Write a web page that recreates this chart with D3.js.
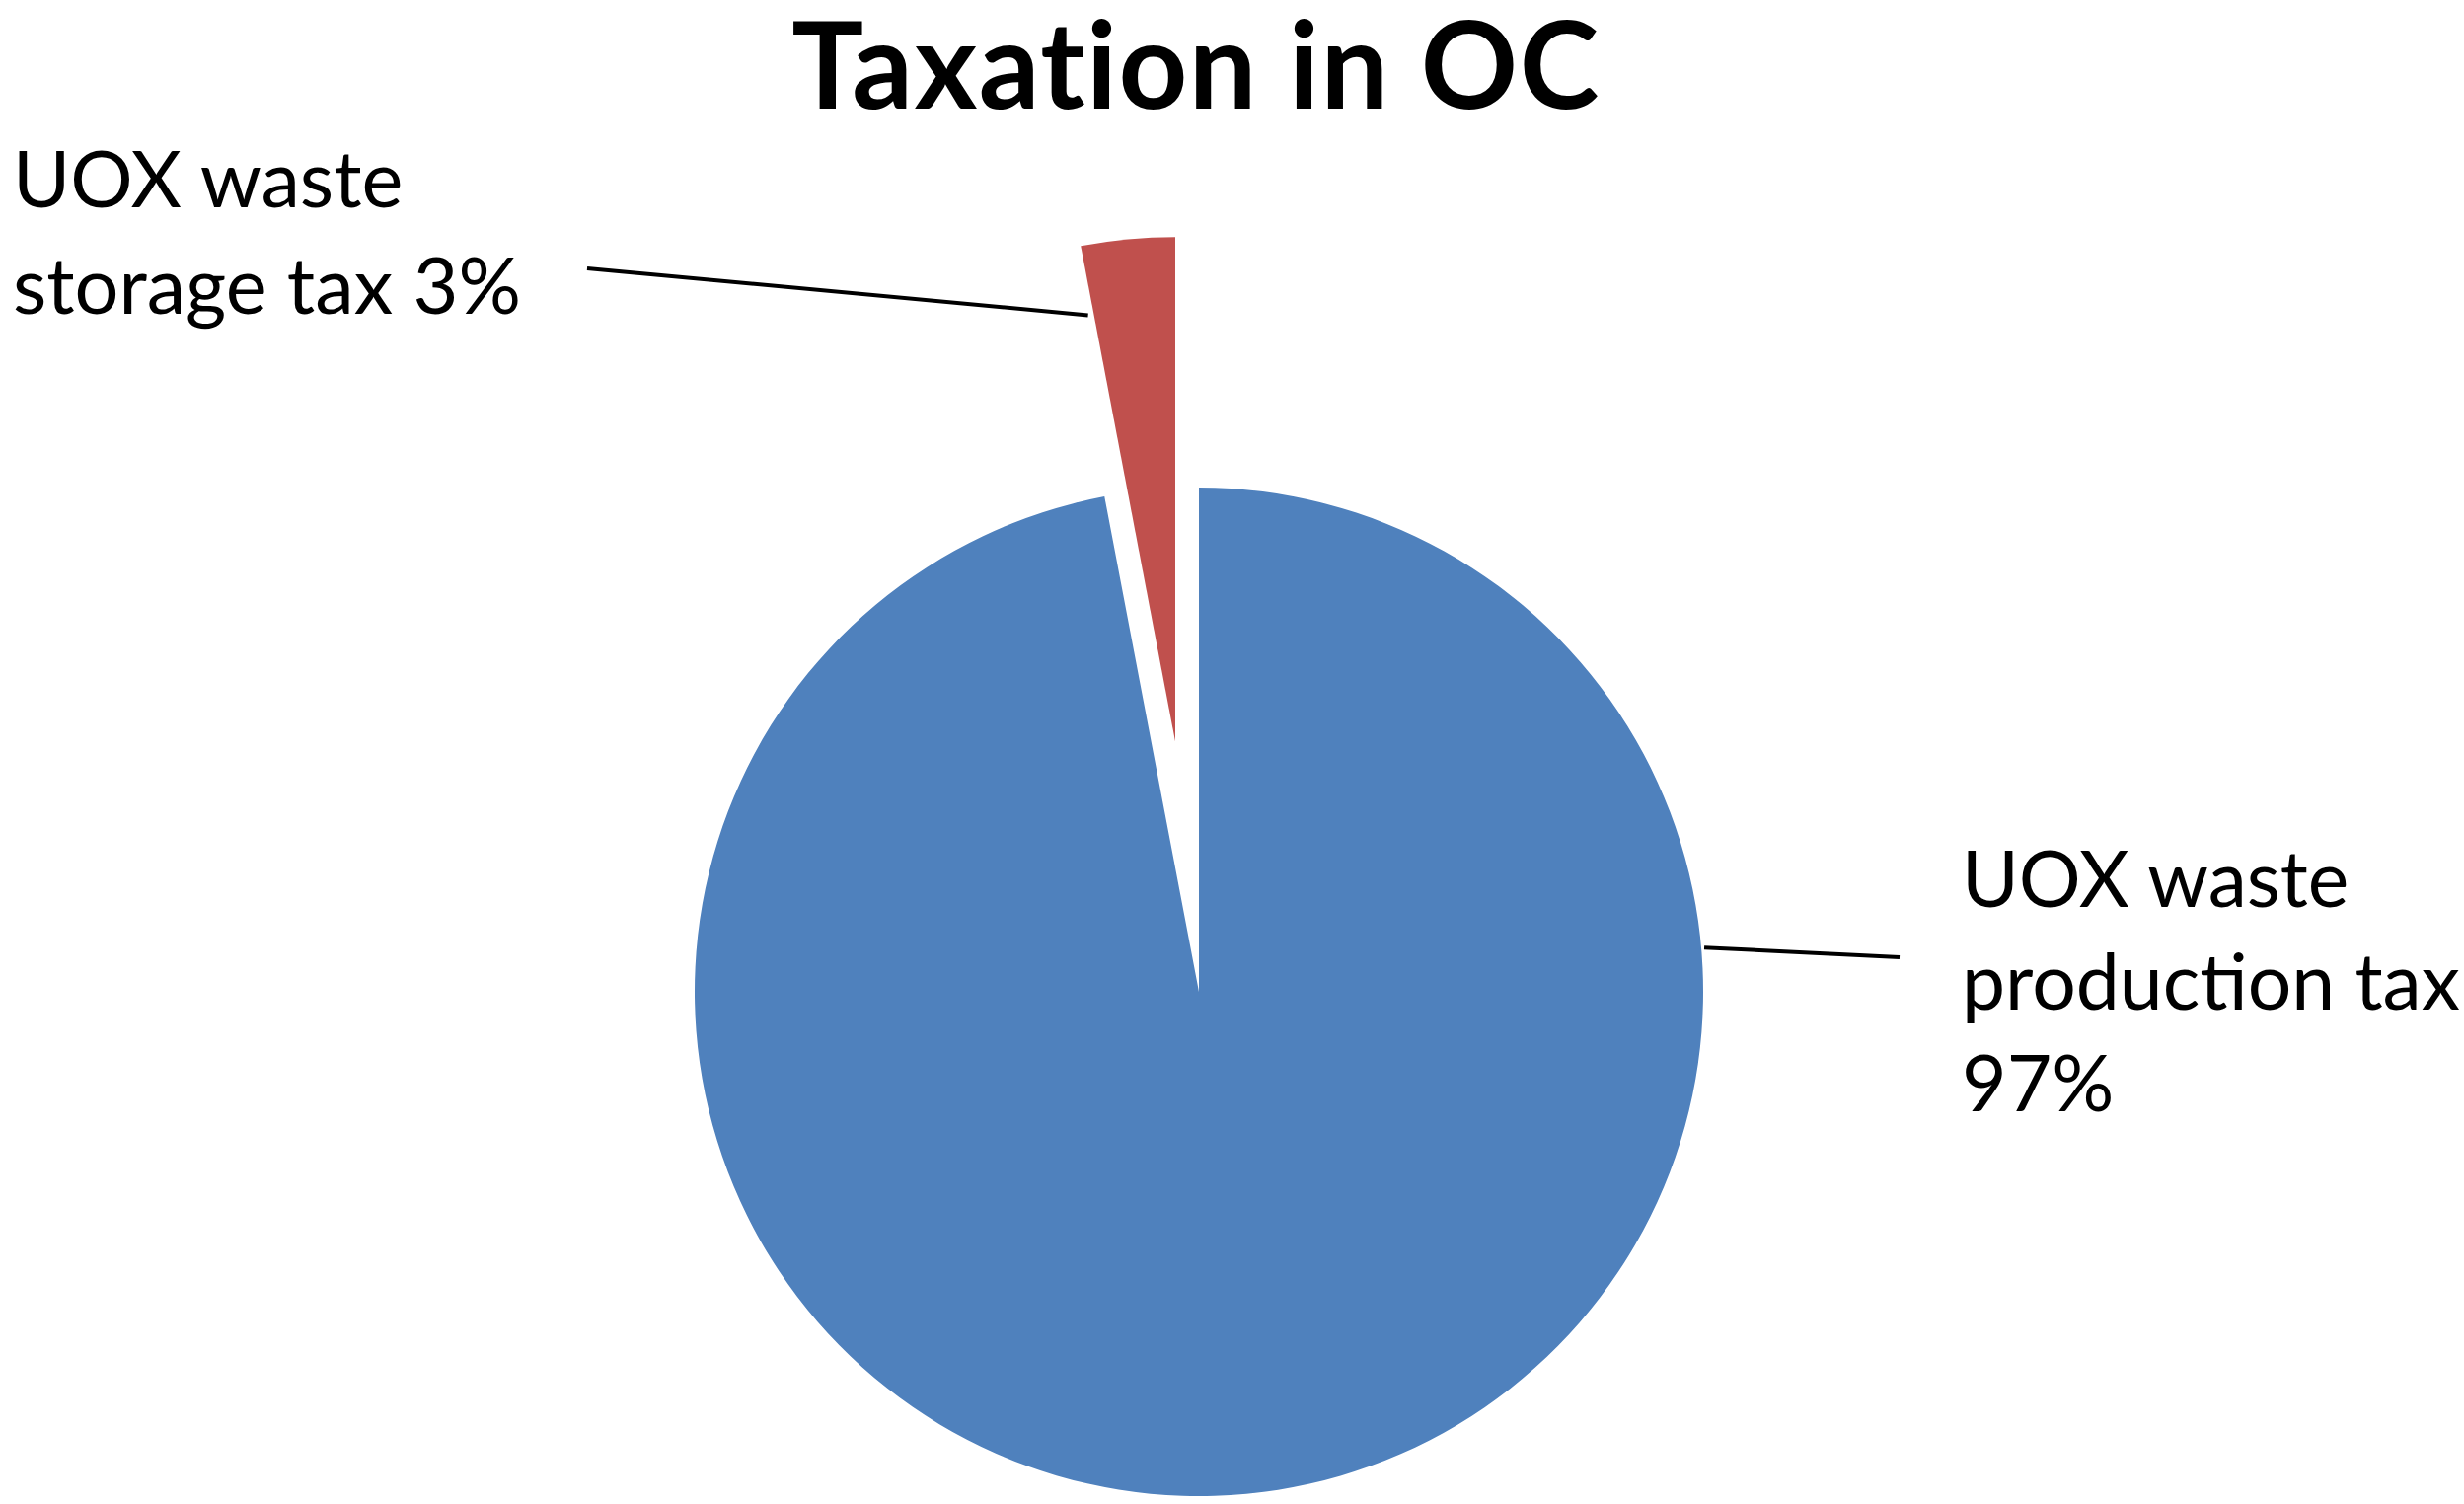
<!DOCTYPE html>
<html><head><meta charset="utf-8">
<script src="https://cdn.jsdelivr.net/npm/d3@7"></script>
<style>html,body{margin:0;padding:0;background:#fff;overflow:hidden}</style>
</head><body>
<svg id="chart" width="2497" height="1524"></svg>
<script>
// ---- data ----
const title = "Taxation in OC";
const categories = ["UOX waste production tax", "UOX waste storage tax"];
const values = [97, 3];
const labelLines = [["UOX waste", "production tax"], ["UOX waste", "storage tax"]];
const colors = ["#4F81BD", "#C0504D"];

// ---- layout ----
const W = 2497, H = 1524;
const cx = 1215, cy = 1005, R = 511;
const explodeDist = [0, 255];
const FONT = "Lato, 'Open Sans', sans-serif";

const svg = d3.select("#chart");
svg.append("rect").attr("width", W).attr("height", H).attr("fill", "#fff");

const total = d3.sum(values);
const pct = d3.format(".0%");
const arcs = d3.pie().sort(null).value(d => d)(values);
const arc = d3.arc().innerRadius(0).outerRadius(R);

const g = svg.append("g").attr("transform", `translate(${cx},${cy})`);
const offsets = arcs.map((a, i) => d3.pointRadial((a.startAngle + a.endAngle) / 2, explodeDist[i]));

g.selectAll("path.slice").data(arcs).join("path")
  .attr("class", "slice")
  .attr("d", arc)
  .attr("fill", (d, i) => colors[i])
  .attr("transform", (d, i) => `translate(${offsets[i][0]},${offsets[i][1]})`);

function fitSize(sel, target) {
  sel.attr("font-size", 100);
  const w = sel.node().getComputedTextLength();
  return 100 * target / w;
}

// title
const t = svg.append("text").text(title)
  .attr("font-family", FONT).attr("font-weight", 700)
  .attr("text-anchor", "middle").attr("x", 1212).attr("y", 110).attr("fill", "#000");
const tfs = fitSize(t, 834) * 0.96;
t.attr("font-size", tfs).attr("letter-spacing", 1.5);

// labels
const labelLayout = [
  { x: 1988, baselines: [919, 1023, 1126], fitLine: 1, target: 505, lineFrom: [1925, 970] },
  { x: 13, baselines: [210, 318], fitLine: 1, target: 515, lineFrom: [595, 272] }
];

const labelTexts = categories.map((c, i) => {
  const p = pct(values[i] / total);
  const lines = labelLines[i].slice();
  if (i === 0) lines.push(p); else lines[lines.length - 1] += " " + p;
  return lines;
});

labelTexts.forEach((lines, i) => {
  const L = labelLayout[i];
  const tmp = svg.append("text").attr("font-family", FONT).text(lines[L.fitLine]);
  const fs = fitSize(tmp, L.target);
  tmp.remove();
  const txt = svg.append("text").attr("font-family", FONT).attr("font-size", fs).attr("fill", "#000");
  lines.forEach((ln, j) => {
    txt.append("tspan").attr("x", L.x).attr("y", L.baselines[j]).text(ln);
  });
});

// leader lines
const blueAnchorAngle = 85 * Math.PI / 180;
const bA = d3.pointRadial(blueAnchorAngle, R + 3);
const blueAnchor = [cx + offsets[0][0] + bA[0], cy + offsets[0][1] + bA[1]];
const rA = d3.pointRadial(arcs[1].startAngle, R * 0.86);
const redAnchor = [cx + offsets[1][0] + rA[0] - 6, cy + offsets[1][1] + rA[1]];

const anchors = [blueAnchor, redAnchor];
svg.selectAll("line.leader").data(labelLayout).join("line")
  .attr("class", "leader")
  .attr("x1", d => d.lineFrom[0]).attr("y1", d => d.lineFrom[1])
  .attr("x2", (d, i) => anchors[i][0]).attr("y2", (d, i) => anchors[i][1])
  .attr("stroke", "#000").attr("stroke-width", 4);
</script>
</body></html>
